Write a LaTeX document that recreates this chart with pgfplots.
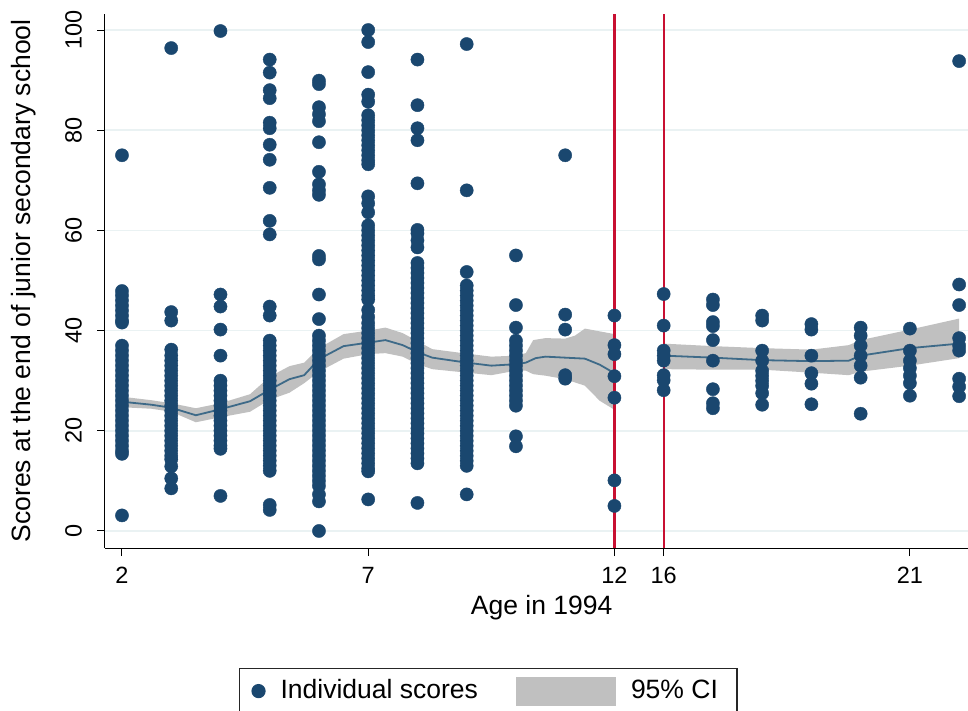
\documentclass[border=0pt]{standalone}
\usepackage{pgfplots}
\pgfplotsset{compat=1.18}
\usepackage{fontspec}
\setmainfont{Liberation Sans}

\definecolor{dotnavy}{RGB}{26,71,111}
\definecolor{xred}{RGB}{200,16,50}
\definecolor{cigray}{RGB}{192,192,192}
\definecolor{lowline}{RGB}{62,106,136}
\definecolor{gridc}{RGB}{234,242,243}

% x position: age for 2..12, age-3 for 16..22
\pgfplotstableread[row sep=\\]{
x y\\
2 75\\ 2 47.9\\ 2 47\\ 2 46\\ 2 45\\ 2 44\\ 2 43\\ 2 42\\ 2 41.6\\
2 37\\ 2 36\\ 2 35\\ 2 34\\ 2 33\\ 2 32\\ 2 31\\ 2 30\\ 2 29\\ 2 28\\ 2 27\\ 2 26\\ 2 25\\ 2 24\\ 2 23\\ 2 22\\ 2 21\\ 2 20\\ 2 19\\ 2 18\\ 2 17\\ 2 16\\ 2 15.4\\ 2 3.1\\
3 96.4\\ 3 43.7\\ 3 42\\ 3 36.2\\ 3 35\\ 3 34\\ 3 33\\ 3 32\\ 3 31\\ 3 30\\ 3 29\\ 3 28\\ 3 27\\ 3 26\\ 3 25\\ 3 24\\ 3 23\\ 3 22\\ 3 21\\ 3 20\\ 3 19\\ 3 18\\ 3 17\\ 3 16\\ 3 15\\ 3 14.3\\ 3 12.9\\ 3 10.5\\ 3 8.5\\
4 99.8\\ 4 47.2\\ 4 44.8\\ 4 40.2\\ 4 35\\ 4 30\\ 4 29\\ 4 28\\ 4 27\\ 4 26\\ 4 25\\ 4 24\\ 4 23\\ 4 22\\ 4 21\\ 4 20\\ 4 19\\ 4 18\\ 4 17\\ 4 16.4\\ 4 7\\
5 94.1\\ 5 91.5\\ 5 88\\ 5 86.4\\ 5 81.5\\ 5 80.4\\ 5 77.1\\ 5 74.1\\ 5 68.5\\ 5 61.9\\ 5 59.2\\ 5 44.8\\ 5 43\\
5 38\\ 5 37\\ 5 36\\ 5 35\\ 5 34\\ 5 33\\ 5 32\\ 5 31\\ 5 30\\ 5 29\\ 5 28\\ 5 27\\ 5 26\\ 5 25\\ 5 24\\ 5 23\\ 5 22\\ 5 21\\ 5 20\\ 5 19\\ 5 18\\ 5 17\\ 5 16\\ 5 15\\ 5 14\\ 5 13\\ 5 12\\ 5 5.2\\ 5 4.2\\
6 89.9\\ 6 89.2\\ 6 84.6\\ 6 83.2\\ 6 81.8\\ 6 77.6\\ 6 71.7\\ 6 69.2\\ 6 68\\ 6 67.1\\ 6 54.9\\ 6 54.2\\ 6 47.2\\ 6 42.3\\
6 39\\ 6 38\\ 6 37\\ 6 36\\ 6 35\\ 6 34\\ 6 33\\ 6 32\\ 6 31\\ 6 30\\ 6 29\\ 6 28\\ 6 27\\ 6 26\\ 6 25\\ 6 24\\ 6 23\\ 6 22\\ 6 21\\ 6 20\\ 6 19\\ 6 18\\ 6 17\\ 6 16\\ 6 15\\ 6 14\\ 6 13\\ 6 12\\ 6 11\\ 6 10\\ 6 9\\ 6 7.3\\ 6 5.9\\ 6 0\\
7 100\\ 7 97.6\\ 7 91.6\\ 7 87.1\\ 7 85.7\\ 7 83\\ 7 82\\ 7 81\\ 7 80\\ 7 79\\ 7 78\\ 7 77\\ 7 76\\ 7 75\\ 7 74\\ 7 73.2\\ 7 66.8\\ 7 65.4\\ 7 63.6\\
7 61\\ 7 60\\ 7 59\\ 7 58\\ 7 57\\ 7 56\\ 7 55\\ 7 54\\ 7 53\\ 7 52\\ 7 51\\ 7 50\\ 7 49\\ 7 48\\ 7 47\\ 7 46.2\\ 7 44.1\\
7 42.7\\ 7 41.5\\ 7 40.5\\ 7 39.5\\ 7 38.5\\ 7 37.5\\ 7 36.5\\ 7 35.5\\ 7 34.5\\ 7 33.5\\ 7 32.5\\ 7 31.5\\ 7 30.5\\ 7 29.5\\ 7 28.5\\ 7 27.5\\ 7 26.5\\ 7 25.5\\ 7 24.5\\ 7 23.5\\ 7 22.5\\ 7 21.5\\ 7 20.5\\ 7 19.5\\ 7 18.5\\ 7 17.5\\ 7 16.5\\ 7 15.5\\ 7 14.5\\ 7 13.5\\ 7 12.5\\ 7 11.9\\ 7 6.3\\
8 94.1\\ 8 85\\ 8 80.4\\ 8 78\\ 8 69.4\\ 8 60.1\\ 8 59.4\\ 8 58\\ 8 56.6\\
8 53.5\\ 8 52.5\\ 8 51.5\\ 8 50.5\\ 8 49.5\\ 8 48.5\\ 8 47.5\\ 8 46.5\\ 8 45.5\\ 8 44.5\\ 8 43.5\\ 8 42.5\\ 8 41.5\\ 8 40.5\\ 8 39.5\\ 8 38.5\\ 8 37.5\\ 8 36.5\\ 8 35.5\\ 8 34.5\\ 8 33.5\\ 8 32.5\\ 8 31.5\\ 8 30.5\\ 8 29.5\\ 8 28.5\\ 8 27.5\\ 8 26.5\\ 8 25.5\\ 8 24.5\\ 8 23.5\\ 8 22.5\\ 8 21.5\\ 8 20.5\\ 8 19.5\\ 8 18.5\\ 8 17.5\\ 8 16.5\\ 8 15.5\\ 8 14.5\\ 8 13.5\\ 8 5.6\\
9 97.2\\ 9 68\\ 9 51.7\\
9 49\\ 9 48\\ 9 47\\ 9 46\\ 9 45\\ 9 44\\ 9 43\\ 9 42\\ 9 41\\ 9 40\\ 9 39\\ 9 38\\ 9 37\\ 9 36\\ 9 35\\ 9 34\\ 9 33\\ 9 32\\ 9 31\\ 9 30\\ 9 29\\ 9 28\\ 9 27\\ 9 26\\ 9 25\\ 9 24\\ 9 23\\ 9 22\\ 9 21\\ 9 20\\ 9 19\\ 9 18\\ 9 17\\ 9 16\\ 9 15\\ 9 14\\ 9 13\\ 9 7.3\\
10 55\\ 10 45.1\\ 10 40.6\\ 10 38\\ 10 37\\ 10 36\\ 10 35\\ 10 34\\ 10 33\\ 10 32\\ 10 31\\ 10 30\\ 10 29\\ 10 28\\ 10 27\\ 10 26\\ 10 25\\ 10 18.9\\ 10 16.9\\
11 75\\ 11 43.2\\ 11 40.2\\ 11 31.1\\ 11 30.4\\
12 43\\ 12 37.1\\ 12 35.3\\ 12 30.9\\ 12 26.6\\ 12 10.1\\ 12 5\\
13 47.3\\ 13 41\\ 13 36\\ 13 35\\ 13 34\\ 13 31.1\\ 13 30.1\\ 13 28.1\\
14 46.2\\ 14 45.1\\ 14 41.7\\ 14 40.9\\ 14 38.1\\ 14 34\\ 14 28.3\\ 14 25.5\\ 14 24.5\\
15 43\\ 15 42\\ 15 36\\ 15 34\\ 15 32\\ 15 31\\ 15 30\\ 15 29\\ 15 27.5\\ 15 25.2\\
16 41.3\\ 16 40.2\\ 16 35\\ 16 31.5\\ 16 29.4\\ 16 25.3\\
17 40.6\\ 17 39\\ 17 37\\ 17 35\\ 17 33\\ 17 30.6\\ 17 23.4\\
18 40.4\\ 18 36\\ 18 34\\ 18 32.5\\ 18 31\\ 18 29.5\\ 18 27\\
19 93.8\\ 19 49.2\\ 19 45.1\\ 19 38.5\\ 19 37\\ 19 36\\ 19 30.4\\ 19 28.8\\ 19 26.9\\
}\scores

\begin{document}
\fontsize{26.5}{31}\selectfont
\begin{tikzpicture}
\begin{axis}[
    name=ax,
    width=863pt, height=534pt, scale only axis,
    xmin=1.655, xmax=19.18,
    ymin=-3.4, ymax=103.2,
    axis lines*=left,
    axis line style={black, line width=1pt},
    tick style={black, line width=1pt},
    tick align=outside,
    major tick length=8pt,
    xtick={2,7,12,13,18},
    xticklabels={2,7,12,16,21},
    ytick={0,20,40,60,80,100},
    ymajorgrids,
    grid style={gridc, line width=1.5pt},
    /pgf/number format/assume math mode=true,
    ticklabel style={font=\fontsize{23.5}{28}\selectfont},
    xticklabel style={anchor=north, inner sep=0pt, yshift=-11pt},
    yticklabel style={anchor=south, inner sep=0pt, rotate=90, yshift=15pt},
    xlabel={Age in 1994},
    ylabel={Scores at the end of junior secondary school},
    label style={font=\fontsize{26.5}{31}\selectfont},
    xlabel style={at={(axis description cs:0.506,-0.1236)}, anchor=base, inner sep=0pt},
    ylabel style={at={(axis description cs:-0.0858,0.5)}, anchor=base, inner sep=0pt},
    legend columns=2,
    legend style={at={(axis description cs:0.444,-0.2247)}, anchor=north,
        draw=black!85, line width=1.2pt, inner xsep=12pt, inner ysep=8pt,
        font=\fontsize{26.5}{31}\selectfont,
        nodes={inner xsep=7pt, inner ysep=2pt},
        /tikz/every odd column/.append style={column sep=8pt},
        /tikz/every even column/.append style={column sep=31pt}},
]

\addplot [only marks, mark=*, mark size=6.6pt,
    mark options={fill=dotnavy, draw=dotnavy, line width=0.4pt},
    legend image code/.code={\fill[dotnavy] (6.5pt,0pt) circle (6.5pt);}]
    table[x=x, y=y] {\scores};
\addlegendentry{Individual scores}

% 95% CI band, age 2 to 12
\addplot [fill=cigray, draw=none,
    legend image code/.code={\fill[cigray] (0pt,-14.5pt) rectangle (100pt,14.5pt);}]
    coordinates {
    (2,26.8) (2.6,26.1) (3,25.5) (3.5,24.5) (4,25.5) (4.6,27.3) (5,30.8)
    (5.4,32.9) (5.7,33.6) (6,36.5) (6.5,39.3) (7,40.0) (7.35,40.6) (7.7,39.5)
    (8,37.9) (8.3,36.3) (9,35.4) (9.5,34.8) (10,35.0) (10.2,35.5) (10.35,38.1)
    (10.6,38.5) (11,38.4) (11.2,39.0) (11.4,40.4) (12,39.3)
    (12,24.2) (11.7,26.0) (11.4,29.0) (11,30.3) (10.6,31.0) (10.35,31.3)
    (10.2,32.0) (10,32.0) (9.5,31.1) (9,31.6) (8.3,32.3) (8,33.3) (7.7,34.8)
    (7.35,35.5) (7,35.3) (6.5,34.4) (6,31.8) (5.7,29.5) (5.4,27.6) (5,26.2)
    (4.6,23.8) (4,22.7) (3.5,21.7) (3,23.8) (2.6,24.4) (2,24.7)
    } -- cycle;
\addlegendentry{95\% CI}

% 95% CI band, age 16 to 22
\addplot [fill=cigray, draw=none, forget plot]
    coordinates {
    (13,37.4) (14,36.9) (15,36.5) (16,36.2) (16.76,37.1) (17,38.1) (18,40.2) (19,42.4)
    (19,34.5) (18,33.0) (17,31.8) (16.76,31.1) (16,31.6) (15,32.2) (14,32.2) (13,32.3)
    } -- cycle;

% lowess fit
\addplot [lowline, line width=1.8pt, forget plot] coordinates {
    (2,25.8) (2.6,25.2) (3,24.6) (3.5,23.1) (4,24.3) (4.6,25.9) (5,28.2)
    (5.4,30.3) (5.7,31.1) (6,34.3) (6.5,36.9) (7,37.6) (7.35,38.1) (7.7,37.1)
    (8,35.7) (8.3,34.6) (9,33.6) (9.5,33.0) (10,33.3) (10.2,33.6) (10.4,34.5)
    (10.6,34.8) (11,34.6) (11.4,34.4) (11.7,33.2) (12,31.5)
};
\addplot [lowline, line width=1.8pt, forget plot] coordinates {
    (13,35.0) (14,34.6) (15,34.1) (16,33.9) (16.76,34.0) (17,35.0) (18,36.5) (19,37.4)
};

% cut-offs at age 12 and 16
\addplot [xred, line width=2.2pt, forget plot] coordinates {(12,-3.4) (12,103.2)};
\addplot [xred, line width=2.2pt, forget plot] coordinates {(13,-3.4) (13,103.2)};

\end{axis}
\pgfresetboundingbox
\useasboundingbox ([xshift=-105pt,yshift=-162pt]ax.south west) rectangle ([yshift=14pt]ax.north east);
\end{tikzpicture}
\end{document}
